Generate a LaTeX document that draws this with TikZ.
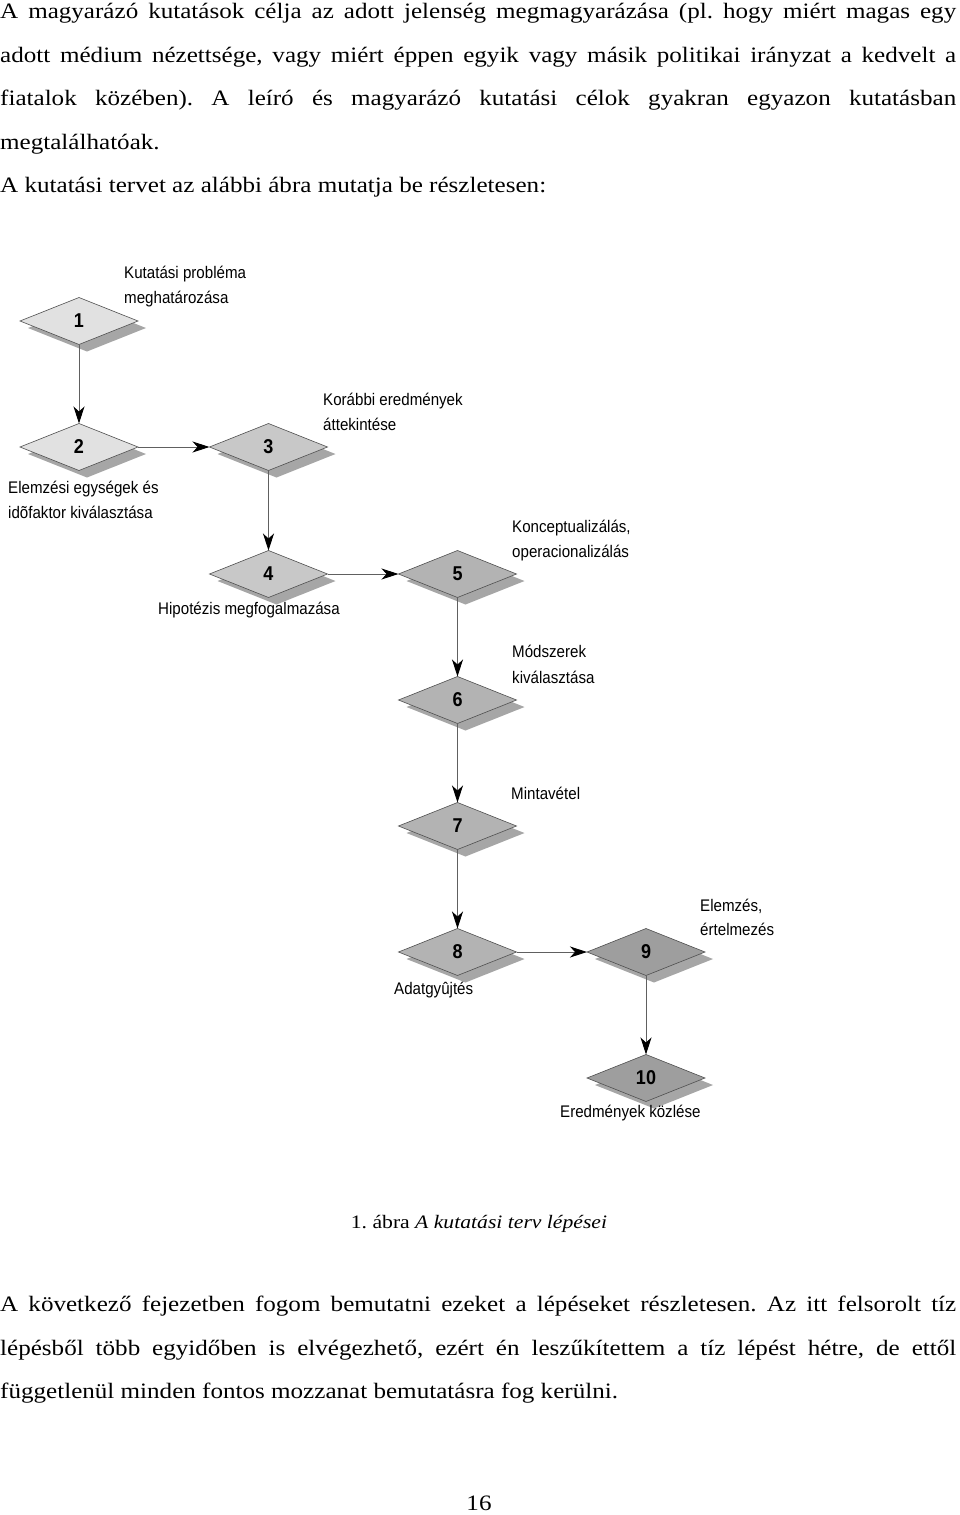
\documentclass[tikz,border=0pt]{standalone}
\usepackage{fontspec}
\usetikzlibrary{shapes.geometric,arrows.meta,shadows}
\newfontfamily\bodyfont{Liberation Serif}[FakeStretch=1.14]
\newfontfamily\labfont{Liberation Sans}[FakeStretch=0.9]
\definecolor{cA}{HTML}{E1E1E1}
\definecolor{cB}{HTML}{C8C8C8}
\definecolor{cC}{HTML}{B3B3B3}
\definecolor{cD}{HTML}{9E9E9E}
\definecolor{shad}{HTML}{A6A6A6}
\definecolor{edge}{HTML}{505050}
\definecolor{linegray}{HTML}{606060}
\newcommand\jline[1]{\makebox[956pt][s]{#1}}
\frenchspacing
\tikzset{
  stepbox/.style={diamond, draw=edge, line width=0.6pt, minimum width=118pt, minimum height=47pt,
    inner sep=0pt, outer sep=0pt, font=\labfont\bfseries\fontsize{20}{20}\selectfont,
    drop shadow={shadow xshift=8pt, shadow yshift=-7pt, fill=shad, opacity=1}},
  lab/.style={anchor=base west, inner sep=0pt, font=\labfont\fontsize{16.8}{25}\selectfont},
  body/.style={anchor=base west, inner sep=0pt, font=\bodyfont\fontsize{22}{26}\selectfont},
  arr/.style={draw=linegray, line width=0.9pt, -{Stealth[length=17pt,width=11pt,inset=5pt,color=black]}}
}
\begin{document}
\begin{tikzpicture}[x=1pt,y=-1pt]
\fill[white] (0,0) rectangle (960,1515);
\useasboundingbox (0,0) rectangle (960,1515);
% body text top
\node[body] (t1) at (0,18.5) {\jline{A magyarázó kutatások célja az adott jelenség megmagyarázása (pl. hogy miért magas egy}};
\node[body] (t2) at (0,62) {\jline{adott médium nézettsége, vagy miért éppen egyik vagy másik politikai irányzat a kedvelt a}};
\node[body] (t3) at (0,105.5) {\jline{fiatalok közében). A leíró és magyarázó kutatási célok gyakran egyazon kutatásban}};
\node[body] (t4) at (0,149) {megtalálhatóak.};
\node[body] (t5) at (0,192.5) {A kutatási tervet az alábbi ábra mutatja be részletesen:};
% diamonds
\node[stepbox, fill=cA] (d1) at (79,321) {1};
\node[stepbox, fill=cA] (d2) at (79,447) {2};
\node[stepbox, fill=cB] (d3) at (268.5,447) {3};
\node[stepbox, fill=cB] (d4) at (268.5,574) {4};
\node[stepbox, fill=cC] (d5) at (457.5,574) {5};
\node[stepbox, fill=cC] (d6) at (457.5,700) {6};
\node[stepbox, fill=cC] (d7) at (457.5,826) {7};
\node[stepbox, fill=cC] (d8) at (457.5,952) {8};
\node[stepbox, fill=cD] (d9) at (646,952) {9};
\node[stepbox, fill=cD] (d10) at (646,1078) {10};
% connectors
\draw[arr] (d1.south) -- (d2.north);
\draw[arr] (d2.east) -- (d3.west);
\draw[arr] (d3.south) -- (d4.north);
\draw[arr] (d4.east) -- (d5.west);
\draw[arr] (d5.south) -- (d6.north);
\draw[arr] (d6.south) -- (d7.north);
\draw[arr] (d7.south) -- (d8.north);
\draw[arr] (d8.east) -- (d9.west);
\draw[arr] (d9.south) -- (d10.north);
% labels
\node[lab] (l1a) at (124,278) {Kutatási probléma};
\node[lab] (l1b) at (124,303) {meghatározása};
\node[lab] (l3a) at (323,405) {Korábbi eredmények};
\node[lab] (l3b) at (323,430) {áttekintése};
\node[lab] (l2a) at (8,493) {Elemzési egységek és};
\node[lab] (l2b) at (8,518) {idõfaktor kiválasztása};
\node[lab] (l5a) at (512,532) {Konceptualizálás,};
\node[lab] (l5b) at (512,557) {operacionalizálás};
\node[lab] (l4) at (158,614) {Hipotézis megfogalmazása};
\node[lab] (l6a) at (512,657) {Módszerek};
\node[lab] (l6b) at (512,683) {kiválasztása};
\node[lab] (l7) at (511,799) {Mintavétel};
\node[lab] (l9a) at (700,911) {Elemzés,};
\node[lab] (l9b) at (700,935) {értelmezés};
\node[lab] (l8) at (394,994) {Adatgyûjtés};
\node[lab] (l10) at (560,1117) {Eredmények közlése};
% caption
\node[anchor=base, inner sep=0pt, font=\bodyfont\fontsize{19}{22}\selectfont] (cap) at (479,1228) {1. ábra \textit{A kutatási terv lépései}};
% body text bottom
\node[body] (b1) at (0,1311) {\jline{A következő fejezetben fogom bemutatni ezeket a lépéseket részletesen. Az itt felsorolt tíz}};
\node[body] (b2) at (0,1355) {\jline{lépésből több egyidőben is elvégezhető, ezért én leszűkítettem a tíz lépést hétre, de ettől}};
\node[body] (b3) at (0,1398.5) {függetlenül minden fontos mozzanat bemutatásra fog kerülni.};
\node[anchor=base, inner sep=0pt, font=\bodyfont\fontsize{22}{26}\selectfont] (pg) at (479,1510) {16};
\end{tikzpicture}
\end{document}
